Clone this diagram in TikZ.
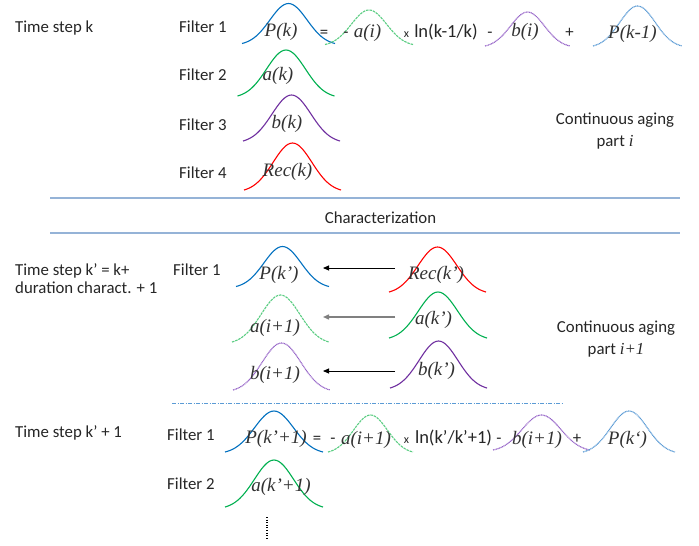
\documentclass[tikz,border=0pt]{standalone}
\usepackage{fontspec}
\setmainfont{Carlito}
\newfontfamily\tnr{Liberation Serif}
\usetikzlibrary{arrows.meta}
\definecolor{cblue}{RGB}{0,112,192}
\definecolor{cgreen}{RGB}{0,176,80}
\definecolor{cpurple}{RGB}{112,48,160}
\definecolor{cred}{RGB}{255,0,0}
\definecolor{lgreen}{RGB}{90,205,130}
\definecolor{lpurple}{RGB}{150,100,200}
\definecolor{lblue}{RGB}{91,155,213}
\definecolor{sepline}{RGB}{149,179,215}
\definecolor{txt}{RGB}{38,38,38}
\definecolor{itxt}{RGB}{50,50,50}
\newcommand{\gbell}[5][]{\draw[bellline,#1] plot[domain=-2.5:2.5,samples=41,smooth] ({#2+\x*#4/5},{#3-#5*(exp(-0.5*\x*\x)-0.0439)/0.9561});}
\tikzset{
  bellline/.style={line width=1.1pt},
  dashbell/.style={dash pattern=on 2.5pt off 0.9pt},
  dotbell/.style={line width=1.15pt, dash pattern=on 1pt off 0.6pt},
  lbl/.style={font=\fontsize{16.8}{20}\selectfont, text=txt, inner sep=0pt, anchor=base west},
  lblc/.style={font=\fontsize{16.8}{20}\selectfont, text=txt, inner sep=0pt, anchor=base},
  ital/.style={font=\tnr\itshape\fontsize{19}{22}\selectfont, text=itxt, inner sep=0pt, anchor=center},
  lnt/.style={font=\fontsize{18.5}{22}\selectfont, text=txt, inner sep=0pt, anchor=base},
  smallx/.style={font=\fontsize{12}{14}\selectfont, text=txt, inner sep=0pt, anchor=base},
  sepl/.style={draw=sepline, line width=1.5pt},
  arr/.style={-{Triangle[length=6pt,width=5pt]}, line width=0.9pt},
}
\begin{document}
\begin{tikzpicture}[x=1pt,y=-1pt]
\useasboundingbox[fill=white] (0,0) rectangle (699,546);

% ---------- top section ----------
\node[lbl] (ts1) at (15,32) {Time step k};
\node[lbl] (f1a) at (179,32) {Filter 1};
\node[lbl] (f2a) at (179,80) {Filter 2};
\node[lbl] (f3a) at (179,130) {Filter 3};
\node[lbl] (f4a) at (179,178) {Filter 4};

\gbell[cblue]{288.5}{43.5}{93}{40}
\gbell[lgreen,dashbell]{369}{44.5}{88}{34.5}
\gbell[lpurple,dotbell]{527.5}{46}{85}{34}
\gbell[lblue,dotbell]{637.5}{46}{89}{40}
\gbell[cgreen]{286}{96}{97}{46}
\gbell[cpurple]{291.5}{141}{97}{46}
\gbell[cred]{292.5}{190}{97}{47}

\node[ital] (pk) at (281,31.5) {P(k)};
\node[lblc] (eq1) at (324,37.5) {=};
\node[lblc] (mi1) at (346,37.5) {-};
\node[ital] (ai) at (367.5,32.5) {a(i)};
\node[smallx] (x1) at (406.5,37.5) {x};
\node[lnt] (ln1) at (446,37.5) {ln(k-1/k)};
\node[lblc] (mi2) at (490,37.5) {-};
\node[ital] (bi) at (525,32) {b(i)};
\node[lblc] (pl1) at (569.5,37.5) {+};
\node[ital] (pkm) at (632.5,34) {P(k-1)};
\node[ital] (ak) at (278,75.5) {a(k)};
\node[ital] (bk) at (287,123.5) {b(k)};
\node[ital] (reck) at (287.5,171.5) {Rec(k)};

\node[lblc] (ca1) at (615,124) {Continuous aging};
\node[lblc] (pa1) at (615,146) {part {\tnr\itshape i}};

\draw[sepl] (50,198) -- (680,198);
\node[lblc] (char) at (380.5,223) {Characterization};
\draw[sepl] (50,233) -- (680,233);

% ---------- middle section ----------
\node[lbl] (ts2a) at (15,275) {Time step k’ = k+};
\node[lbl] (ts2b) at (15,293) {duration charact. + 1};
\node[lbl] (f1b) at (173,275) {Filter 1};

\gbell[cblue]{282.5}{286.5}{93}{40}
\gbell[cred]{437.5}{292}{97}{45}
\gbell[lgreen,dashbell]{280.5}{342}{97}{47}
\gbell[cgreen]{438}{338}{98}{46}
\gbell[lpurple,dotbell]{281.5}{390}{97}{47}
\gbell[cpurple]{438.5}{388}{97}{47}

\node[ital] (pkp) at (279,275) {P(k’)};
\node[ital] (reckp) at (436,275) {Rec(k’)};
\node[ital] (ai1) at (275,328) {a(i+1)};
\node[ital] (akp) at (433.5,320) {a(k’)};
\node[ital] (bi1) at (275,375) {b(i+1)};
\node[ital] (bkp) at (436.5,371) {b(k’)};

\coordinate (a1s) at (395,268);
\coordinate (a1e) at (323,268);
\coordinate (a2s) at (395,317);
\coordinate (a2e) at (323,317);
\coordinate (a3s) at (395,371);
\coordinate (a3e) at (323,371);
\draw[arr] (a1s) -- (a1e);
\draw[arr, draw=black!50, fill=black!50, line width=1.4pt] (a2s) -- (a2e);
\draw[arr] (a3s) -- (a3e);

\node[lblc] (ca2) at (616,332) {Continuous aging};
\node[lblc] (pa2) at (616,354) {part {\tnr\itshape i+1}};

\draw[lblue, line width=1pt, dash pattern=on 4pt off 1.5pt on 1pt off 1.5pt] (172,403) -- (563,403);

% ---------- bottom section ----------
\node[lbl] (ts3) at (15,437) {Time step k’ + 1};
\node[lbl] (f1c) at (167,440) {Filter 1};
\node[lbl] (f2c) at (167,489) {Filter 2};

\gbell[cblue]{274}{452}{98}{41}
\gbell[lgreen,dashbell]{370.5}{452}{85}{37}
\gbell[lpurple,dotbell]{541.5}{450}{97}{35}
\gbell[lblue,dotbell]{629}{452}{92}{41}
\gbell[cgreen]{274}{507}{98}{47}

\node[ital] (pkp1) at (276,438.5) {P(k’+1)};
\node[lblc] (eq2) at (317,443.5) {=};
\node[lblc] (mi3) at (333,443.5) {-};
\node[ital] (ai1b) at (366,440) {a(i+1)};
\node[smallx] (x2) at (406.5,443.5) {x};
\node[lnt] (ln2) at (453.5,443.5) {ln(k’/k’+1)};
\node[lblc] (mi4) at (499,443.5) {-};
\node[ital] (bi1b) at (537,440) {b(i+1)};
\node[lblc] (pl2) at (577,443.5) {+};
\node[ital] (pkq) at (627.5,439.5) {P(k‘)};
\node[ital] (akp1) at (281,486.5) {a(k’+1)};

\coordinate (vd1) at (267,517);
\coordinate (vd2) at (267,540);
\draw[black, line width=1.3pt, dash pattern=on 1pt off 1.6pt] (vd1) -- (vd2);
\end{tikzpicture}
\end{document}
